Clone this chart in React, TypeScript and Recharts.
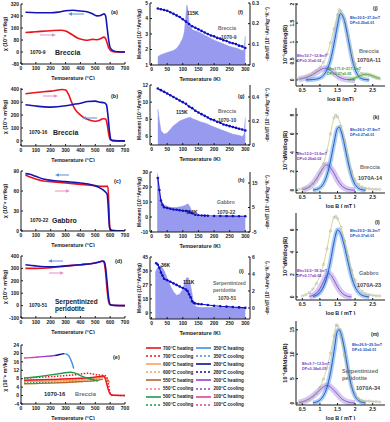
import React from 'react';
import { ComposedChart, Line, Area, XAxis, YAxis } from 'recharts';

const FONT = '"Liberation Sans", Arial, Helvetica, sans-serif';
const INK = '#1a1a1a';

// ---------- (a)-(e): susceptibility vs temperature ----------
const tempTicks = [0, 100, 200, 300, 400, 500, 600, 700];

const aHeat = [[30, 130], [100, 135], [200, 142], [270, 145], [300, 140], [340, 118], [380, 94], [420, 82], [450, 78], [480, 84], [510, 82], [535, 88], [558, 99], [568, 92], [578, 65], [590, 28], [605, 8], [630, 1], [700, 0]];
const aCool = [[30, 265], [100, 262], [200, 262], [250, 266], [300, 275], [350, 278], [400, 273], [450, 267], [480, 255], [510, 241], [530, 242], [548, 250], [560, 254], [570, 238], [580, 160], [590, 80], [600, 30], [620, 9], [650, 2], [700, 0]];

const bHeat = [[30, 365], [100, 375], [200, 386], [280, 398], [300, 394], [320, 360], [340, 302], [360, 252], [400, 200], [450, 165], [500, 152], [530, 160], [550, 172], [570, 170], [580, 128], [590, 58], [600, 10], [620, 2], [700, 0]];
const bCool = [[30, 280], [100, 270], [200, 262], [300, 272], [350, 282], [400, 292], [450, 305], [500, 308], [530, 300], [560, 295], [575, 280], [585, 200], [595, 80], [605, 10], [620, 2], [700, 0]];

const cHeat = [[30, 84], [60, 81], [100, 78], [150, 75], [200, 74], [300, 72], [400, 70], [500, 68], [550, 67], [585, 67], [590, 45], [595, 15], [600, 3], [620, 0], [700, 0]];
const cCool = [[30, 86], [60, 85], [100, 82], [150, 78], [200, 76], [300, 74], [400, 72], [480, 69], [520, 66], [550, 62], [570, 58], [580, 55], [586, 40], [591, 20], [596, 5], [610, 1], [700, 0]];

const dHeat = [[30, 300], [100, 300], [200, 305], [300, 318], [400, 330], [480, 340], [520, 350], [550, 358], [560, 345], [570, 260], [580, 120], [590, 30], [600, 5], [700, 0]];
const dCool = [[30, 330], [100, 320], [200, 312], [300, 320], [400, 330], [480, 340], [520, 350], [550, 360], [560, 355], [570, 300], [580, 180], [590, 60], [600, 10], [620, 2], [700, 0]];

// (e) stepwise heating runs of 1070-16
const e100h = [[20, 17.8], [60, 18], [100, 18.2]];
const e200h = [[100, 18.2], [150, 18.5], [200, 18.8], [230, 19]];
const e280h = [[230, 19], [260, 19.5], [290, 19.9]];
const e350h = [[290, 19.9], [310, 19.5], [325, 18.5], [338, 16.5], [348, 14.5], [355, 12.8]];
const e500h = [[20, 8.3], [100, 8.8], [200, 9.8], [280, 10.6], [330, 11.1], [360, 10.8], [400, 9.5], [450, 8.2], [500, 7.3], [520, 7]];
const e500c = [[20, 6.0], [200, 6.3], [400, 6.6], [520, 7]];
const e550h = [[20, 5.6], [100, 5.7], [200, 5.9], [300, 6.2], [400, 6.6], [500, 7.1], [550, 7.8]];
const e550c = [[20, 6.7], [100, 6.8], [250, 7.0], [350, 7.3], [450, 7.5], [550, 7.8]];
const e600h = [[20, 6.6], [150, 6.8], [300, 7.1], [450, 7.6], [520, 8.2], [560, 8.6], [580, 8], [595, 6]];
const e600c = [[20, 7.3], [150, 7.4], [300, 7.6], [400, 7.8], [500, 8.2], [560, 8.8], [600, 6]];
const e700h = [[20, 7.3], [200, 7.6], [400, 8.2], [520, 8.9], [555, 9.3], [570, 7.5], [585, 3.5], [600, 0.8], [620, 0.1], [700, 0]];
const e700c = [[20, 8.3], [100, 8.6], [200, 9.0], [300, 9.5], [380, 10], [420, 10.4], [450, 10.6], [480, 10.3], [520, 9.8], [560, 9.6], [575, 9], [590, 5], [600, 1], [620, 0.2], [700, 0]];

// ---------- (f)-(i): low temperature moment and -dm/dT ----------
const kTicks = [0, 50, 100, 150, 200, 250, 300];

const fMom = [[20, 4.65], [30, 4.6], [40, 4.55], [50, 4.5], [60, 4.4], [70, 4.3], [80, 4.2], [90, 4.1], [100, 3.95], [110, 3.8], [120, 3.65], [130, 3.5], [140, 3.4], [150, 3.3], [160, 3.2], [170, 3.1], [180, 3.0], [190, 2.9], [200, 2.85], [210, 2.75], [220, 2.7], [230, 2.6], [240, 2.55], [250, 2.45], [260, 2.4], [270, 2.35], [280, 2.25], [290, 2.2], [300, 2.1]];
const fDer = [[20, 0.04], [30, 0.05], [40, 0.055], [50, 0.06], [60, 0.065], [70, 0.07], [80, 0.08], [90, 0.1], [100, 0.13], [105, 0.16], [110, 0.24], [113, 0.29], [116, 0.27], [120, 0.2], [130, 0.17], [150, 0.16], [175, 0.14], [200, 0.12], [225, 0.105], [250, 0.09], [275, 0.08], [290, 0.07], [296, 0.075], [300, 0.14]];

const gMom = [[20, 11.6], [30, 11.4], [40, 11.2], [50, 11.0], [60, 10.8], [70, 10.6], [80, 10.4], [90, 10.2], [100, 10.0], [110, 9.8], [120, 9.5], [130, 9.3], [140, 9.0], [150, 8.8], [160, 8.6], [170, 8.4], [180, 8.2], [190, 8.0], [200, 7.9], [210, 7.7], [220, 7.6], [230, 7.4], [240, 7.3], [250, 7.2], [260, 7.1], [270, 7.0], [280, 6.9], [290, 6.8], [300, 6.7]];
const gDer = [[20, 0.3], [25, 0.2], [30, 0.12], [40, 0.09], [50, 0.1], [60, 0.13], [70, 0.16], [80, 0.18], [90, 0.2], [100, 0.21], [110, 0.22], [120, 0.23], [125, 0.23], [130, 0.22], [140, 0.21], [150, 0.2], [160, 0.19], [175, 0.18], [190, 0.16], [200, 0.15], [220, 0.13], [240, 0.11], [260, 0.09], [280, 0.08], [290, 0.07], [296, 0.09], [300, 0.23]];

const hMom = [[20, 26], [25, 18], [30, 11], [35, 8], [40, 6.5], [50, 6], [60, 5.5], [70, 5], [80, 4.8], [90, 4.5], [100, 4.2], [110, 4], [120, 3.5], [130, 2.5], [140, 1.5], [150, 1.2], [160, 1], [170, 0.9], [180, 0.8], [200, 0.7], [220, 0.7], [240, 0.6], [260, 0.6], [280, 0.5], [300, 0.5]];
const hDer = [[18, 19], [22, 16], [26, 11], [30, 8], [40, 6], [60, 5], [80, 5], [100, 5.5], [110, 6], [116, 6.5], [122, 5.5], [130, 3], [140, 1.5], [150, 1.2], [200, 1.1], [250, 1.1], [290, 1.0], [300, 1.0]];

const iMom = [[15, 41], [20, 40], [25, 38], [30, 35], [35, 33], [40, 31], [50, 30], [60, 29], [70, 28], [80, 27], [90, 26], [100, 25], [110, 24], [115, 23], [120, 21], [125, 19], [130, 16.5], [135, 15.5], [140, 15], [150, 14.7], [160, 14.5], [180, 14], [200, 13.5], [220, 13.2], [240, 13], [260, 12.7], [280, 12.5], [300, 12.2]];
const iDer = [[12, 4.2], [20, 4.8], [30, 5.0], [40, 4.4], [50, 3.5], [60, 2.6], [70, 1.9], [80, 1.5], [90, 1.6], [100, 2.2], [108, 3.2], [113, 3.6], [118, 3.5], [123, 3.0], [128, 2.0], [133, 0.9], [138, 0.3], [145, 0.1], [160, 0.05], [200, 0.05], [250, 0.05], [300, 0.05]];

// ---------- (j)-(m): coercivity spectra ----------
const logTicks = [0.5, 1, 1.5, 2, 2.5];

const jTotal = [[0.35, 0.02], [0.4, 0.03], [0.5, 0.05], [0.6, 0.08], [0.7, 0.12], [0.8, 0.17], [0.9, 0.24], [1.0, 0.33], [1.1, 0.47], [1.2, 0.68], [1.3, 0.98], [1.4, 1.35], [1.5, 1.72], [1.55, 1.85], [1.6, 1.82], [1.7, 1.6], [1.8, 1.15], [1.9, 0.72], [2.0, 0.42], [2.1, 0.25], [2.2, 0.17], [2.3, 0.14], [2.4, 0.12], [2.5, 0.08], [2.6, 0.05], [2.7, 0.03]];
const jHard = [[0.6, 0], [0.8, 0.01], [1.0, 0.05], [1.1, 0.12], [1.2, 0.27], [1.3, 0.52], [1.4, 0.95], [1.5, 1.45], [1.58, 1.75], [1.65, 1.68], [1.7, 1.55], [1.8, 1.1], [1.9, 0.62], [2.0, 0.28], [2.1, 0.1], [2.2, 0.03], [2.3, 0.01], [2.4, 0]];
const jSoft = [[0.4, 0.02], [0.6, 0.06], [0.8, 0.14], [0.9, 0.2], [1.0, 0.26], [1.1, 0.3], [1.15, 0.31], [1.2, 0.3], [1.3, 0.25], [1.4, 0.18], [1.5, 0.1], [1.6, 0.05], [1.7, 0.02], [1.8, 0.01], [2.0, 0]];
const jHigh = [[1.8, 0], [1.9, 0.02], [2.0, 0.05], [2.1, 0.09], [2.2, 0.13], [2.3, 0.15], [2.4, 0.14], [2.5, 0.11], [2.6, 0.07], [2.7, 0.04]];

const kTotal = [[0.4, 0.1], [0.5, 0.15], [0.6, 0.25], [0.7, 0.4], [0.8, 0.7], [0.9, 1.1], [1.0, 1.8], [1.1, 2.8], [1.2, 4.2], [1.3, 6.0], [1.4, 7.7], [1.45, 8.0], [1.5, 7.8], [1.6, 6.8], [1.7, 5.2], [1.8, 3.4], [1.9, 2.0], [2.0, 1.1], [2.1, 0.6], [2.2, 0.35], [2.3, 0.2], [2.4, 0.15], [2.5, 0.1], [2.6, 0.1], [2.7, 0.08]];
const kHard = [[0.8, 0.02], [0.9, 0.08], [1.0, 0.25], [1.1, 0.7], [1.2, 1.6], [1.3, 3.1], [1.4, 5.0], [1.5, 6.6], [1.55, 6.7], [1.6, 6.3], [1.7, 4.8], [1.8, 3.0], [1.9, 1.5], [2.0, 0.6], [2.1, 0.2], [2.2, 0.05], [2.3, 0]];
const kSoft = [[0.5, 0.05], [0.6, 0.15], [0.7, 0.35], [0.8, 0.7], [0.9, 1.2], [1.0, 1.8], [1.1, 2.4], [1.18, 2.7], [1.25, 2.6], [1.3, 2.4], [1.4, 1.8], [1.5, 1.1], [1.6, 0.55], [1.7, 0.25], [1.8, 0.08], [1.9, 0.02], [2.0, 0]];

const lTotal = [[0.5, 0.1], [0.6, 0.2], [0.7, 0.4], [0.8, 0.7], [0.9, 1.2], [1.0, 1.9], [1.1, 2.9], [1.2, 4.3], [1.3, 5.9], [1.4, 7.1], [1.45, 7.2], [1.5, 7.0], [1.6, 6.2], [1.7, 5.0], [1.8, 3.6], [1.9, 2.4], [2.0, 1.5], [2.1, 0.9], [2.2, 0.5], [2.3, 0.3], [2.4, 0.2], [2.5, 0.15], [2.6, 0.1], [2.7, 0.1]];
const lHard = [[0.8, 0.05], [0.9, 0.15], [1.0, 0.4], [1.1, 0.9], [1.2, 1.8], [1.3, 3.2], [1.4, 4.9], [1.47, 5.8], [1.5, 6.0], [1.6, 5.6], [1.7, 4.5], [1.8, 3.1], [1.9, 1.8], [2.0, 0.9], [2.1, 0.4], [2.2, 0.15], [2.3, 0.05], [2.4, 0]];
const lSoft = [[0.7, 0.05], [0.8, 0.15], [0.9, 0.35], [1.0, 0.75], [1.1, 1.35], [1.2, 2.0], [1.25, 2.1], [1.3, 2.0], [1.4, 1.5], [1.5, 0.9], [1.6, 0.45], [1.7, 0.18], [1.8, 0.05], [1.9, 0]];

const mTotal = [[0.4, 0.1], [0.5, 0.2], [0.6, 0.4], [0.7, 0.7], [0.8, 1.2], [0.9, 2.0], [1.0, 3.2], [1.1, 4.9], [1.2, 7.2], [1.3, 10.2], [1.4, 13.8], [1.47, 16], [1.5, 15.8], [1.6, 13.5], [1.7, 9.8], [1.8, 6.2], [1.9, 3.5], [2.0, 1.8], [2.1, 0.9], [2.2, 0.5], [2.3, 0.4], [2.4, 0.4], [2.5, 0.3], [2.6, 0.3], [2.7, 0.2]];
const mHard = [[0.8, 0.05], [0.9, 0.2], [1.0, 0.6], [1.1, 1.5], [1.2, 3.2], [1.3, 6.2], [1.4, 10.5], [1.5, 14.8], [1.55, 15], [1.6, 14.2], [1.7, 11], [1.8, 6.8], [1.9, 3.4], [2.0, 1.4], [2.1, 0.5], [2.2, 0.15], [2.3, 0]];
const mSoft = [[0.4, 0.1], [0.5, 0.25], [0.6, 0.5], [0.7, 0.9], [0.8, 1.4], [0.9, 2.0], [1.0, 2.7], [1.1, 3.3], [1.18, 3.6], [1.25, 3.5], [1.3, 3.3], [1.4, 2.6], [1.5, 1.8], [1.6, 1.0], [1.7, 0.5], [1.8, 0.2], [1.9, 0.05], [2.0, 0]];

// legend of panel (e)
const legendLeft = [
  { label: '700°C heating', color: '#e8141c', dash: false },
  { label: '700°C cooling', color: '#e8141c', dash: true },
  { label: '600°C heating', color: '#f7a35c', dash: false },
  { label: '600°C cooling', color: '#f7a35c', dash: true },
  { label: '550°C heating', color: '#b8652a', dash: false },
  { label: '550°C cooling', color: '#e8808a', dash: true },
  { label: '500°C heating', color: '#1e9a4a', dash: false },
  { label: '500°C cooling', color: '#1e9a4a', dash: true }
];
const legendRight = [
  { label: '350°C heating', color: '#3a8ee6', dash: false },
  { label: '350°C cooling', color: '#3a8ee6', dash: true },
  { label: '280°C heating', color: '#10108a', dash: false },
  { label: '280°C cooling', color: '#10108a', dash: true },
  { label: '200°C heating', color: '#9a3ad0', dash: false },
  { label: '200°C cooling', color: '#9a3ad0', dash: true },
  { label: '100°C heating', color: '#e0409a', dash: false },
  { label: '100°C cooling', color: '#e0409a', dash: true }
];

const pts = (arr: number[][]) => arr.map(([x, y]) => ({ x, y }));

const tickFont = { fontSize: 5, fontWeight: 700, fill: INK, fontFamily: FONT };
const titleFont = { fontSize: 5.4, fontWeight: 700, fill: INK, fontFamily: FONT };

const RED = '#e8141c';
const BLUE = '#1414b4';

type Curve = { data: number[][]; color: string; dash?: string; width?: number };

const ChiPanel = ({ top, boxH, domain, ticks, curves }: { top: number; boxH: number; domain: number[]; ticks: number[]; curves: Curve[] }) => (
  <div style={{ position: 'absolute', left: 0, top: top - 2 }}>
    <ComposedChart width={130} height={boxH + 18} margin={{ top: 2, right: 5, bottom: 0, left: 0 }}>
      <XAxis type="number" dataKey="x" domain={[0, 700]} ticks={tempTicks} interval={0} height={16}
        tickSize={-2} tickMargin={4} tick={tickFont} stroke={INK} allowDataOverflow
        label={{ value: 'Temperature (°C)', position: 'insideBottom', offset: 0, ...titleFont }} />
      <XAxis xAxisId="top" orientation="top" type="number" domain={[0, 700]} height={0} tick={false} tickLine={false} stroke={INK} />
      <YAxis type="number" domain={domain} ticks={ticks} interval={0} width={21} tickSize={-2} tickMargin={4}
        tick={tickFont} stroke={INK} allowDataOverflow
        label={{ value: 'χ (10⁻⁸ m³/kg)', angle: -90, position: 'insideLeft', offset: 5, style: { textAnchor: 'middle' }, ...titleFont }} />
      <YAxis yAxisId="frame" orientation="right" domain={[0, 1]} width={0} tick={false} tickLine={false} stroke={INK} />
      {curves.map((c, i) => (
        <Line key={i} data={pts(c.data)} dataKey="y" type="monotone" stroke={c.color} strokeWidth={c.width ?? 1.6}
          strokeDasharray={c.dash} dot={false} isAnimationActive={false} />
      ))}
    </ComposedChart>
  </div>
);

const MomentPanel = ({ top, boxH, leftDomain, leftTicks, rightDomain, rightTicks, moment, deriv }: {
  top: number; boxH: number; leftDomain: number[]; leftTicks: number[]; rightDomain: number[]; rightTicks: number[];
  moment: number[][]; deriv: number[][];
}) => (
  <div style={{ position: 'absolute', left: 132, top: top - 2 }}>
    <ComposedChart width={138} height={boxH + 18} margin={{ top: 2, right: 0, bottom: 0, left: 0 }}>
      <XAxis type="number" dataKey="x" domain={[-5, 315]} ticks={kTicks} interval={0} height={16}
        tickSize={-2} tickMargin={4} tick={tickFont} stroke={INK}
        label={{ value: 'Temperature (K)', position: 'insideBottom', offset: 0, ...titleFont }} />
      <XAxis xAxisId="top" orientation="top" type="number" domain={[-5, 315]} height={0} tick={false} tickLine={false} stroke={INK} />
      <YAxis yAxisId="m" type="number" domain={leftDomain} ticks={leftTicks} interval={0} width={18}
        tickSize={-2} tickMargin={4} tick={tickFont} stroke={INK} allowDataOverflow
        label={{ value: 'Moment (10⁻³Am²/kg)', angle: -90, position: 'insideLeft', offset: 7, style: { textAnchor: 'middle' }, ...titleFont, fontSize: 5 }} />
      <YAxis yAxisId="d" orientation="right" type="number" domain={rightDomain} ticks={rightTicks} interval={0} width={20}
        tickSize={-2} tickMargin={4} tick={tickFont} stroke={INK} allowDataOverflow
        label={{ value: '-dm/dT (10⁻⁵Am²kg⁻¹K⁻¹)', angle: -90, position: 'insideRight', offset: 3, style: { textAnchor: 'middle' }, ...titleFont, fontSize: 4.6 }} />
      <Area yAxisId="d" data={pts(deriv)} dataKey="y" type="linear" fill="#8d8fee" fillOpacity={0.9} stroke="#8d8fee"
        strokeWidth={0.5} baseValue="dataMin" isAnimationActive={false} />
      <Line yAxisId="m" data={pts(moment)} dataKey="y" type="linear" stroke="#1010c0" strokeWidth={1.1}
        dot={{ r: 1.3, fill: '#1010c0', stroke: 'none' }} isAnimationActive={false} />
    </ComposedChart>
  </div>
);

const RotTick = (props: any) => {
  const { x, y, payload } = props;
  return (
    <text x={x} y={y} transform={`rotate(-90 ${x} ${y})`} textAnchor="middle" fontSize={5} fontWeight={700}
      fill={INK} fontFamily={FONT}>{payload.value}</text>
  );
};

const CoerPanel = ({ top, boxH, domain, ticks, total, hard, soft, high, xTitle }: {
  top: number; boxH: number; domain: number[]; ticks: number[]; total: number[][]; hard: number[][]; soft: number[][];
  high?: number[][]; xTitle: string;
}) => (
  <div style={{ position: 'absolute', left: 282, top: top - 2 }}>
    <ComposedChart width={106} height={boxH + 17} margin={{ top: 2, right: 3, bottom: 0, left: 0 }}>
      <XAxis type="number" dataKey="x" domain={[0.32, 2.85]} ticks={logTicks} interval={0} height={15}
        tickSize={-2} tickMargin={4} tick={tickFont} stroke={INK}
        label={{ value: xTitle, position: 'insideBottom', offset: 0, ...titleFont }} />
      <XAxis xAxisId="top" orientation="top" type="number" domain={[0.32, 2.85]} height={0} tick={false} tickLine={false} stroke={INK} />
      <YAxis type="number" domain={domain} ticks={ticks} interval={0} width={14} tickSize={-2} tickMargin={4}
        tick={<RotTick />} stroke={INK} allowDataOverflow
        label={{ value: '10⁻¹dM/dlog(B)', angle: -90, position: 'insideLeft', offset: 3, style: { textAnchor: 'middle' }, ...titleFont, fontSize: 5.6 }} />
      <YAxis yAxisId="frame" orientation="right" domain={[0, 1]} width={0} tick={false} tickLine={false} stroke={INK} />
      <Line data={pts(soft)} dataKey="y" type="monotone" stroke="#b49ae8" strokeWidth={6} strokeOpacity={0.55} dot={false} isAnimationActive={false} />
      <Line data={pts(hard)} dataKey="y" type="monotone" stroke="#5ea2f0" strokeWidth={4.5} strokeOpacity={0.55} dot={false} isAnimationActive={false} />
      {high && <Line data={pts(high)} dataKey="y" type="monotone" stroke="#9fd88a" strokeWidth={4} strokeOpacity={0.6} dot={false} isAnimationActive={false} />}
      <Line data={pts(total)} dataKey="y" type="monotone" stroke="#c4c46a" strokeWidth={0.7}
        dot={{ r: 1.2, fill: 'none', stroke: '#a8a8a0', strokeWidth: 0.5 }} isAnimationActive={false} />
      <Line data={pts(soft)} dataKey="y" type="monotone" stroke="#7b4fc9" strokeWidth={0.9} dot={false} isAnimationActive={false} />
      <Line data={pts(hard)} dataKey="y" type="monotone" stroke="#1f4fb0" strokeWidth={0.9} dot={false} isAnimationActive={false} />
      {high && <Line data={pts(high)} dataKey="y" type="monotone" stroke="#3a9a3a" strokeWidth={0.8} dot={false} isAnimationActive={false} />}
    </ComposedChart>
  </div>
);

const Note = ({ x, y, size = 5, color = INK, children }: { x: number; y: number; size?: number; color?: string; children: React.ReactNode }) => (
  <div style={{ position: 'absolute', left: x, top: y, fontSize: size, lineHeight: 1, color, fontWeight: 700, whiteSpace: 'nowrap' }}>{children}</div>
);

const Arrow = ({ x1, x2, y, color }: { x1: number; x2: number; y: number; color: string }) => {
  const left = Math.min(x1, x2);
  const w = Math.abs(x2 - x1);
  const toLeft = x2 < x1;
  return (
    <svg style={{ position: 'absolute', left, top: y - 3 }} width={w} height={6}>
      <line x1={toLeft ? 3 : 0} y1={3} x2={toLeft ? w : w - 3} y2={3} stroke={color} strokeWidth={1} />
      <polygon points={toLeft ? '0,3 4,1.2 4,4.8' : `${w},3 ${w - 4},1.2 ${w - 4},4.8`} fill={color} />
    </svg>
  );
};

const ARROW_BLUE = '#5b8fd6';
const ARROW_PINK = '#e68fc4';
const C_BLUE = '#2050c0';
const C_PURPLE = '#8040c0';
const C_GREEN = '#30a040';
const GRAY = '#6e6e6e';

const LegendBox = () => (
  <div style={{ position: 'absolute', left: 146, top: 344, display: 'flex', gap: 3 }}>
    {[legendLeft, legendRight].map((col, ci) => (
      <div key={ci}>
        {col.map((item) => (
          <div key={item.label} style={{ display: 'flex', alignItems: 'center', height: 8.1 }}>
            <svg width={15} height={4} style={{ marginRight: 2 }}>
              <line x1={0} y1={2} x2={15} y2={2} stroke={item.color} strokeWidth={1.6} strokeDasharray={item.dash ? '2 2' : undefined} />
            </svg>
            <span style={{ fontSize: 4.6, fontWeight: 700, color: INK, whiteSpace: 'nowrap' }}>{item.label}</span>
          </div>
        ))}
      </div>
    ))}
  </div>
);

export default function App() {
  return (
    <div style={{ position: 'absolute', left: 0, top: 0, width: 390, height: 422, background: '#fff', overflow: 'hidden', fontFamily: FONT }}>
      <ChiPanel top={4} boxH={60} domain={[-80, 320]} ticks={[-80, 0, 80, 160, 240, 320]}
        curves={[{ data: aHeat, color: RED }, { data: aCool, color: BLUE }]} />
      <ChiPanel top={88} boxH={58} domain={[-40, 410]} ticks={[0, 100, 200, 300, 400]}
        curves={[{ data: bHeat, color: RED }, { data: bCool, color: BLUE }]} />
      <ChiPanel top={171} boxH={60} domain={[0, 90]} ticks={[0, 30, 60, 90]}
        curves={[{ data: cHeat, color: RED }, { data: cCool, color: BLUE }]} />
      <ChiPanel top={256} boxH={62} domain={[-100, 400]} ticks={[-100, 0, 100, 200, 300, 400]}
        curves={[{ data: dHeat, color: RED }, { data: dCool, color: BLUE }]} />
      <ChiPanel top={345} boxH={59} domain={[-4, 24]} ticks={[-4, 0, 4, 8, 12, 16, 20, 24]}
        curves={[
          { data: e500c, color: '#1e9a4a', dash: '1.5 1.5', width: 1.2 },
          { data: e550c, color: '#e8808a', dash: '1.5 1.5', width: 1.2 },
          { data: e600c, color: '#f7a35c', dash: '1.5 1.5', width: 1.2 },
          { data: e550h, color: '#b8652a', width: 1.3 },
          { data: e600h, color: '#f7a35c', width: 1.3 },
          { data: e700h, color: RED, width: 1.5 },
          { data: e700c, color: RED, dash: '1.5 1.5', width: 1.5 },
          { data: e500h, color: '#1e9a4a', width: 1.4 },
          { data: e100h, color: '#e0409a', width: 1.4 },
          { data: e200h, color: '#9a3ad0', width: 1.4 },
          { data: e280h, color: '#10108a', width: 1.4 },
          { data: e350h, color: '#3a8ee6', width: 1.4 }
        ]} />

      <MomentPanel top={3} boxH={62} leftDomain={[1, 5]} leftTicks={[1, 2, 3, 4, 5]} rightDomain={[0, 0.3]}
        rightTicks={[0, 0.1, 0.2, 0.3]} moment={fMom} deriv={fDer} />
      <MomentPanel top={85} boxH={60} leftDomain={[5, 12]} leftTicks={[6, 8, 10, 12]} rightDomain={[0, 0.5]}
        rightTicks={[0, 0.2, 0.4]} moment={gMom} deriv={gDer} />
      <MomentPanel top={172} boxH={60} leftDomain={[-10, 30]} leftTicks={[-10, 0, 10, 20, 30]} rightDomain={[-5, 19.5]}
        rightTicks={[-5, 5, 15]} moment={hMom} deriv={hDer} />
      <MomentPanel top={257} boxH={62} leftDomain={[5, 45]} leftTicks={[9, 18, 27, 36, 45]} rightDomain={[-1.3, 6]}
        rightTicks={[0, 2, 4, 6]} moment={iMom} deriv={iDer} />

      <CoerPanel top={3} boxH={83} domain={[-0.16, 2.03]} ticks={[0, 0.5, 1, 1.5, 2]} total={jTotal} hard={jHard}
        soft={jSoft} high={jHigh} xTitle="log B (mT)" />
      <CoerPanel top={108} boxH={85} domain={[-0.3, 8.75]} ticks={[0, 2, 4, 6, 8]} total={kTotal} hard={kHard}
        soft={kSoft} xTitle="log B ( mT )" />
      <CoerPanel top={213} boxH={87} domain={[-0.27, 7.5]} ticks={[0, 2, 4, 6]} total={lTotal} hard={lHard}
        soft={lSoft} xTitle="log B ( mT )" />
      <CoerPanel top={321} boxH={84} domain={[-0.4, 16.8]} ticks={[0, 5, 10, 15]} total={mTotal} hard={mHard}
        soft={mSoft} xTitle="log B ( mT )" />

      {/* (a)-(e) annotations */}
      <Note x={111} y={9.5} size={5.5}>(a)</Note>
      <Arrow x1={84} x2={68} y={14} color={ARROW_BLUE} />
      <Arrow x1={40} x2={56} y={35} color={ARROW_PINK} />
      <Note x={30} y={49.5}>1070-9</Note>
      <Note x={55} y={48.5} size={7}>Breccia</Note>

      <Note x={111} y={94} size={5.5}>(b)</Note>
      <Arrow x1={43} x2={58} y={96} color={ARROW_PINK} />
      <Arrow x1={97} x2={82} y={118} color={ARROW_BLUE} />
      <Note x={29} y={129.5}>1070-16</Note>
      <Note x={53} y={128.5} size={7}>Breccia</Note>

      <Note x={114} y={179} size={5.5}>(c)</Note>
      <Arrow x1={69} x2={55} y={175} color={ARROW_BLUE} />
      <Arrow x1={55} x2={70} y={191} color={ARROW_PINK} />
      <Note x={30} y={217.5}>1070-22</Note>
      <Note x={52} y={216.5} size={7}>Gabbro</Note>

      <Note x={115} y={259} size={5.5}>(d)</Note>
      <Arrow x1={63} x2={48} y={261} color={ARROW_BLUE} />
      <Arrow x1={49} x2={64} y={273} color={ARROW_PINK} />
      <Note x={29} y={302.5}>1070-51</Note>
      <Note x={55} y={298.5} size={6.5}>Serpentinized</Note>
      <Note x={55} y={305.5} size={6.5}>peridotite</Note>

      <Note x={113} y={355} size={5.5}>(e)</Note>
      <Note x={44} y={392} size={5.8}>1070-16</Note>
      <Note x={75} y={392} size={5.8} color={GRAY}>Breccia</Note>

      {/* (f)-(i) annotations */}
      <Note x={187} y={10.5}>115K</Note>
      <Note x={238} y={10}>(f)</Note>
      <Note x={218} y={25.5} color={GRAY}>Breccia</Note>
      <Note x={221} y={34.5} color="#444">1070-9</Note>

      <Note x={176} y={110}>115K</Note>
      <Note x={238} y={94}>(g)</Note>
      <Note x={218} y={108.5} color={GRAY}>Breccia</Note>
      <Note x={218} y={117.5} color="#444">1070-10</Note>

      <Note x={186} y={210}>116K</Note>
      <Note x={238} y={178}>(h)</Note>
      <Note x={217} y={199.5} color={GRAY}>Gabbro</Note>
      <Note x={217} y={210} color="#444">1070-22</Note>

      <Note x={161} y={263}>36K</Note>
      <Note x={183} y={280}>111K</Note>
      <Note x={239} y={269}>(i)</Note>
      <Note x={213} y={281} color={GRAY}>Serpentinized</Note>
      <Note x={213} y={287.5} color={GRAY}>peridotite</Note>
      <Note x={218} y={296} color="#444">1070-51</Note>

      {/* (j)-(m) annotations */}
      <Note x={373} y={6}>(j)</Note>
      <Note x={350} y={17} size={3.8} color={C_BLUE}>Bh=30.5~37.2mT</Note>
      <Note x={350} y={22} size={3.8} color={C_BLUE}>DP=0.20±0.01</Note>
      <Note x={297} y={55} size={3.8} color={C_PURPLE}>Bh=10.7~12.8mT</Note>
      <Note x={297} y={60} size={3.8} color={C_PURPLE}>DP=0.31±0.02</Note>
      <Note x={327} y={68} size={3.8} color={C_GREEN}>Bh=171.6~217.7mT</Note>
      <Note x={327} y={72.5} size={3.8} color={C_GREEN}>DP=0.27±0.05</Note>
      <Note x={359} y={49} size={5.5} color={GRAY}>Breccia</Note>
      <Note x={357} y={57.5} size={5.5} color="#444">1070A-11</Note>

      <Note x={373} y={115}>(k)</Note>
      <Note x={350} y={129} size={3.8} color={C_BLUE}>Bh=26.5~27.8mT</Note>
      <Note x={350} y={134} size={3.8} color={C_BLUE}>DP=0.27±0.01</Note>
      <Note x={297} y={152.5} size={3.8} color={C_PURPLE}>Bh=12.0~13.6mT</Note>
      <Note x={297} y={157.5} size={3.8} color={C_PURPLE}>DP=0.26±0.02</Note>
      <Note x={360} y={164.5} size={5.5} color={GRAY}>Breccia</Note>
      <Note x={358} y={175.5} size={5.5} color="#444">1070A-14</Note>

      <Note x={375} y={220}>(l)</Note>
      <Note x={350} y={230} size={3.8} color={C_BLUE}>Bh=29.5~30.2mT</Note>
      <Note x={350} y={235} size={3.8} color={C_BLUE}>DP=0.37±0.01</Note>
      <Note x={297} y={269.5} size={3.8} color={C_PURPLE}>Bh=16.5~18.1mT</Note>
      <Note x={297} y={274.5} size={3.8} color={C_PURPLE}>DP=0.17±0.02</Note>
      <Note x={359} y={270.5} size={5.5} color={GRAY}>Gabbro</Note>
      <Note x={357} y={282.5} size={5.5} color="#444">1070A-23</Note>

      <Note x={371} y={332}>(m)</Note>
      <Note x={352} y={344} size={3.8} color={C_BLUE}>Bh=26.9~29.5mT</Note>
      <Note x={352} y={349} size={3.8} color={C_BLUE}>DP=0.32±0.01</Note>
      <Note x={302} y={362.5} size={3.8} color={C_PURPLE}>Bh=9.7~12.5mT</Note>
      <Note x={302} y={367.5} size={3.8} color={C_PURPLE}>DP=0.34±0.03</Note>
      <Note x={342} y={368.5} size={5.5} color={GRAY}>Serpentinized</Note>
      <Note x={342} y={375.5} size={5.5} color={GRAY}>peridotite</Note>
      <Note x={356} y={385.5} size={5.5} color="#444">1070A-34</Note>

      <LegendBox />
    </div>
  );
}
